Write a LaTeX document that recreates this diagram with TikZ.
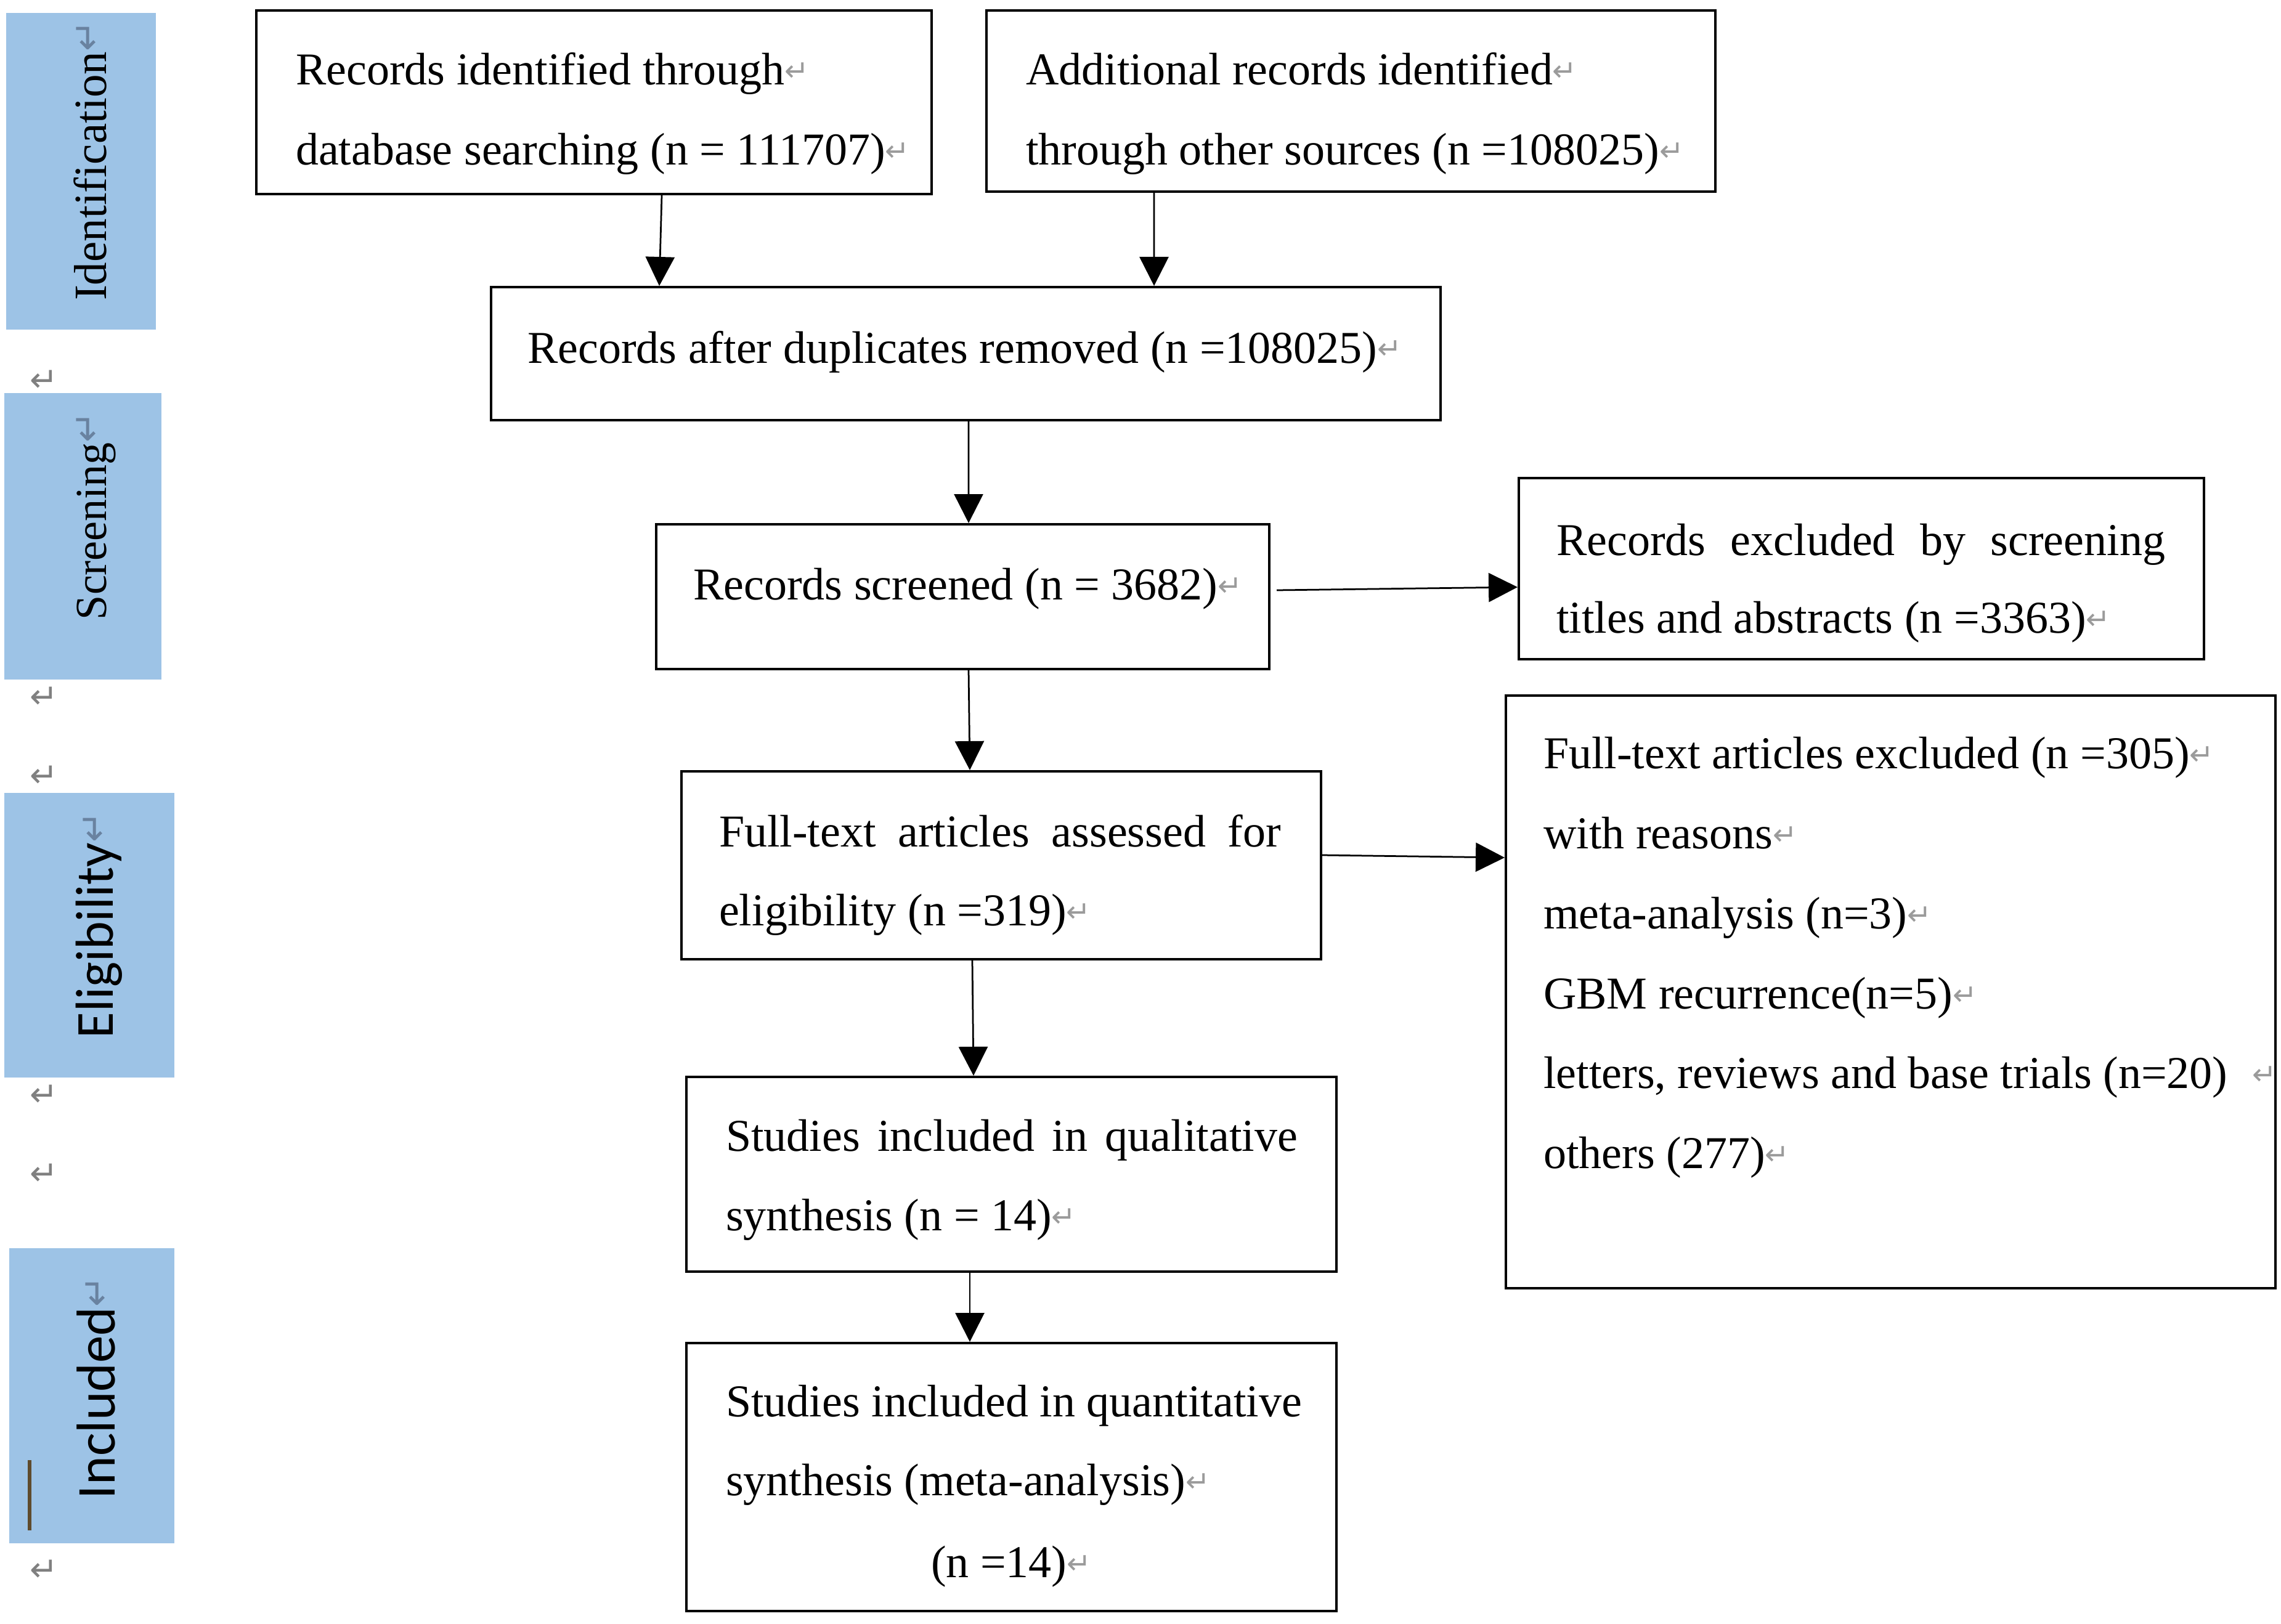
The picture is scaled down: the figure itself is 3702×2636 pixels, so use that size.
\documentclass[tikz,border=0pt]{standalone}
\usepackage{fontspec}
\setmainfont{Liberation Serif}
\newfontfamily\sansfnt{Carlito}
\newfontfamily\symfnt{DejaVu Sans}
\usetikzlibrary{arrows.meta,fit}
\definecolor{sideblue}{RGB}{157,195,230}
\definecolor{pmgray}{RGB}{155,155,155}
\definecolor{mgray}{RGB}{128,128,128}
\definecolor{rgray}{RGB}{105,130,160}
\definecolor{cursorc}{RGB}{95,75,45}
\newcommand\pmark{\raisebox{1.2pt}{\symfnt\fontsize{9.5pt}{9.5pt}\selectfont\textcolor{pmgray}{\symbol{"21B5}}}}
\newcommand\rpmark{\raisebox{2pt}{\symfnt\fontsize{12pt}{12pt}\selectfont\textcolor{rgray}{\symbol{"21B5}}}}
\begin{document}
\begin{tikzpicture}[x=0.2pt,y=-0.2pt,
  box/.style={draw, line width=0.8pt, inner sep=0pt},
  side/.style={fill=sideblue, draw=none, inner sep=0pt},
  txt/.style={anchor=base west, inner sep=0pt, font=\fontsize{14.8pt}{18pt}\selectfont},
  sidetxt/.style={rotate=90, anchor=base west, inner sep=0pt},
  mk/.style={inner sep=0pt, text=mgray, font=\symfnt\fontsize{11pt}{11pt}\selectfont},
  arr/.style={line width=0.55pt, -{Triangle[length=9.4pt,width=9.4pt]}}]
\useasboundingbox (0,0) rectangle (3702,2636);
\fill[white] (0,0) rectangle (3702,2636);

% side stage bars
\node[side, fit={(10,21) (253,535)}] (sid) {};
\node[side, fit={(7,638) (262,1103)}] (sscr) {};
\node[side, fit={(7,1287) (283,1749)}] (selg) {};
\node[side, fit={(15,2026) (283,2505)}] (sinc) {};
\node[sidetxt, font=\fontsize{15pt}{15pt}\selectfont] (lid) at (172,489) {Identification\rpmark};
\node[sidetxt, font=\fontsize{14.4pt}{15pt}\selectfont] (lscr) at (172,1007) {Screening\rpmark};
\node[sidetxt, font=\sansfnt\fontsize{17.4pt}{18pt}\selectfont] (lelg) at (183,1686) {Eligibility\rpmark};
\node[sidetxt, font=\sansfnt\fontsize{17.8pt}{18pt}\selectfont] (linc) at (186,2434) {Included\rpmark};
\draw[line width=1.1pt, cursorc] (48,2370) -- (48,2484);

% margin paragraph marks
\node[mk] (m1) at (72,618) {\symbol{"21B5}};
\node[mk] (m2) at (72,1132) {\symbol{"21B5}};
\node[mk] (m3) at (72,1260) {\symbol{"21B5}};
\node[mk] (m4) at (72,1778) {\symbol{"21B5}};
\node[mk] (m5) at (72,1906) {\symbol{"21B5}};
\node[mk] (m6) at (72,2549) {\symbol{"21B5}};

% boxes
\node[box, fit={(416,17) (1512,315)}] (b1) {};
\node[box, fit={(1601,17) (2784,311)}] (b2) {};
\node[box, fit={(797,466) (2338,682)}] (b3) {};
\node[box, fit={(1065,851) (2060,1086)}] (b4) {};
\node[box, fit={(2465,776) (3577,1070)}] (b5) {};
\node[box, fit={(1106,1252) (2144,1557)}] (b6) {};
\node[box, fit={(2444,1129) (3693,2091)}] (b7) {};
\node[box, fit={(1114,1748) (2169,2064)}] (b8) {};
\node[box, fit={(1114,2180) (2169,2615)}] (b9) {};

% texts
\node[txt] (t1a) at (479,138) {Records identified through\pmark};
\node[txt] (t1b) at (479,268) {database searching (n = 111707)\pmark};
\node[txt] (t2a) at (1664,138) {Additional records identified\pmark};
\node[txt] (t2b) at (1664,268) {through other sources (n =108025)\pmark};
\node[txt] (t3) at (855,589) {Records after duplicates removed (n =108025)\pmark};
\node[txt] (t4) at (1124,973) {Records screened (n = 3682)\pmark};
\node[txt] (t5a) at (2525,901) {\makebox[197.6pt][s]{Records excluded by screening}};
\node[txt] (t5b) at (2525,1027) {titles and abstracts (n =3363)\pmark};
\node[txt] (t6a) at (1166,1374) {\makebox[182.4pt][s]{Full-text articles assessed for}};
\node[txt] (t6b) at (1166,1502) {eligibility (n =319)\pmark};
\node[txt] (t7a) at (2504,1247) {Full-text articles excluded (n =305)\pmark};
\node[txt] (t7b) at (2504,1377) {with reasons\pmark};
\node[txt] (t7c) at (2504,1507) {meta-analysis (n=3)\pmark};
\node[txt] (t7d) at (2504,1637) {GBM recurrence(n=5)\pmark};
\node[txt] (t7e) at (2504,1766) {letters, reviews and base trials (n=20)\hspace{8pt}\pmark};
\node[txt] (t7f) at (2504,1896) {others (277)\pmark};
\node[txt] (t8a) at (1177,1868) {\makebox[185.6pt][s]{Studies included in qualitative}};
\node[txt] (t8b) at (1177,1997) {synthesis (n = 14)\pmark};
\node[txt] (t9a) at (1177,2299) {Studies included in quantitative};
\node[txt] (t9b) at (1177,2427) {synthesis (meta-analysis)\pmark};
\node[txt] (t9c) at (1510,2560) {(n =14)\pmark};

% connectors
\draw[arr] ([xshift=22pt]b1.south) -- ([xshift=-99.5pt]b3.north);
\draw[arr] ([xshift=-63.9pt]b2.south) -- ([xshift=61.1pt]b3.north);
\draw[arr] ([xshift=0.9pt]b3.south) -- ([xshift=1.9pt]b4.north);
\draw[arr] ([xshift=2pt,yshift=2.1pt]b4.east) -- ([yshift=-6pt]b5.west);
\draw[arr] ([xshift=1.9pt]b4.south) -- ([xshift=-10.2pt]b6.north);
\draw[arr] ([yshift=3.3pt]b6.east) -- ([yshift=43.6pt]b7.west);
\draw[arr] ([xshift=-9.4pt]b6.south) -- ([xshift=-12.3pt]b8.north);
\draw[arr] ([xshift=-13.5pt]b8.south) -- ([xshift=-13.5pt]b9.north);
\end{tikzpicture}
\end{document}
